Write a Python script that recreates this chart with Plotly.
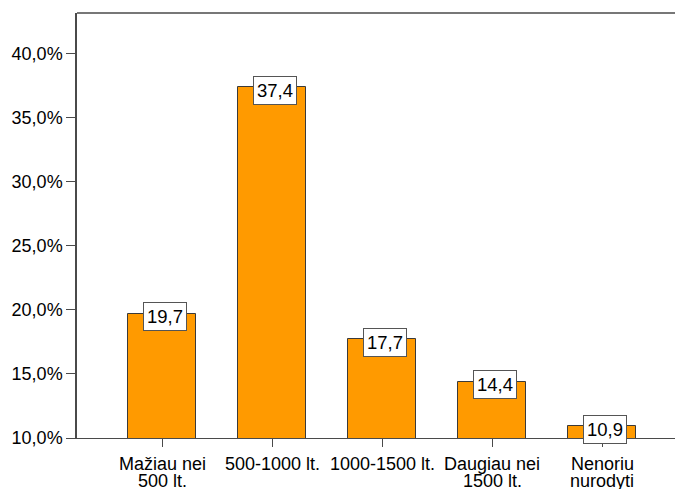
import plotly.graph_objects as go

# Survey answers: preferred amount (lt.) and share of respondents (%)
categories = ["Mažiau nei<br>500 lt.", "500-1000 lt.", "1000-1500 lt.",
              "Daugiau nei<br>1500 lt.", "Nenoriu<br>nurodyti"]
percent = [19.7, 37.4, 17.7, 14.4, 10.9]

y_tick_values = [10, 15, 20, 25, 30, 35, 40]
y_tick_labels = ["10,0%", "15,0%", "20,0%", "25,0%", "30,0%", "35,0%", "40,0%"]

FONT = "Arial, Liberation Sans, sans-serif"
AXIS_COLOR = "#4a4a4a"

x_pos = list(range(len(categories)))

fig = go.Figure()
fig.add_trace(go.Bar(
    x=x_pos,
    y=percent,
    width=0.62,
    marker=dict(color="#FF9A00", line=dict(color="#3a3a3a", width=1)),
    hoverinfo="skip",
))

# Value labels in white boxes at the top of each bar
for xi, v in zip(x_pos, percent):
    fig.add_annotation(
        x=xi, y=v, xref="x", yref="y",
        text=f"{v:.1f}".replace(".", ","),
        showarrow=False,
        xanchor="center", yanchor="middle",
        xshift=3, yshift=-3,
        font=dict(family=FONT, size=18.5, color="black"),
        bgcolor="white",
        bordercolor="#555555",
        borderwidth=1,
        borderpad=3,
    )

# Category labels below the axis, one annotation per text line (tight line spacing)
for xi, label in zip(x_pos, categories):
    for li, line in enumerate(label.split("<br>")):
        fig.add_annotation(
            x=xi, y=0, xref="x", yref="paper",
            text=line,
            showarrow=False,
            xanchor="center", yanchor="middle",
            yshift=-26 - 17 * li,
            font=dict(family=FONT, size=18, color="black"),
        )

# Top edge of the plot frame
fig.add_shape(type="line", xref="paper", yref="paper",
              x0=0, x1=1, y0=1, y1=1,
              line=dict(color=AXIS_COLOR, width=1.5))

fig.update_layout(
    width=675, height=489,
    margin=dict(l=77, r=0, t=13, b=51),
    paper_bgcolor="white",
    plot_bgcolor="white",
    showlegend=False,
    font=dict(family=FONT, size=18, color="black"),
    bargap=0,
)

fig.update_xaxes(
    range=[-0.775, 4.66],
    tickmode="array",
    tickvals=x_pos,
    showticklabels=False,
    automargin=False,
    showline=True, linecolor=AXIS_COLOR, linewidth=1,
    ticks="outside", ticklen=8, tickcolor=AXIS_COLOR,
    showgrid=False, zeroline=False,
)
fig.update_yaxes(
    range=[10, 43.2],
    tickmode="array",
    tickvals=y_tick_values,
    ticktext=y_tick_labels,
    automargin=False,
    showline=True, linecolor=AXIS_COLOR, linewidth=1.5,
    ticks="outside", ticklen=9, tickcolor=AXIS_COLOR,
    showgrid=False, zeroline=False,
    tickfont=dict(family=FONT, size=18, color="black"),
)

fig.write_html("out.html")
